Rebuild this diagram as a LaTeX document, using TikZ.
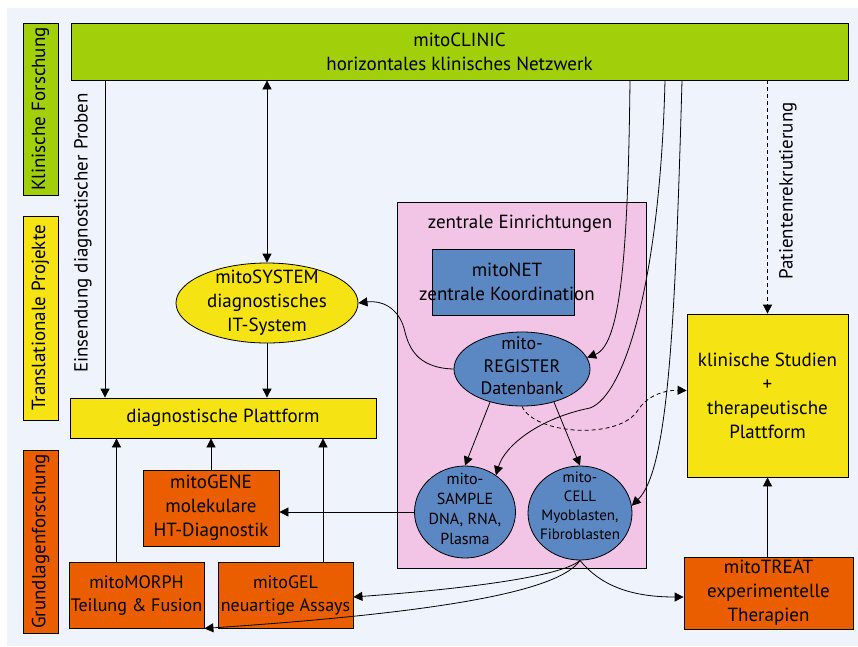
\documentclass[tikz,border=0pt]{standalone}
\usepackage{fontspec}
\setmainfont{PT Sans}
\usetikzlibrary{arrows.meta,shapes.geometric}

\definecolor{hintergrund}{HTML}{EEF3FC}
\definecolor{mitogruen}{HTML}{A1CF0A}
\definecolor{mitogelb}{HTML}{F5E314}
\definecolor{mitoorange}{HTML}{EB5E00}
\definecolor{mitorosa}{HTML}{F2C4E6}
\definecolor{mitoblau}{HTML}{5B87C3}

\tikzset{
	box/.style={draw, line width=0.8pt, align=center, inner sep=0pt, font=\fontsize{19}{24}\selectfont},
	seite/.style={box, rotate=90, minimum height=35pt},
	blob/.style={draw, line width=0.8pt, ellipse, inner sep=0pt, fill=mitoblau},
	txt/.style={align=center, inner sep=0pt, font=\fontsize{19}{24}\selectfont},
	pfeil/.style={line width=0.8pt, -{Triangle[length=9pt,width=9pt]}},
	doppelpfeil/.style={line width=0.8pt, {Triangle[length=9pt,width=9pt]}-{Triangle[length=9pt,width=9pt]}}
}

\begin{document}
\begin{tikzpicture}[x=1pt,y=-1pt]
		%%%%% START %%%%%
		\useasboundingbox (0,0) rectangle (858,646);
		\fill[hintergrund] (7,8) rectangle (858,646);

		% Ebenen links
		\node[seite, fill=mitogruen, minimum width=172pt] (klinisch) at (40.5,109) {Klinische Forschung};
		\node[seite, fill=mitogelb, minimum width=204pt] (translational) at (40.5,318) {Translationale Projekte};
		\node[seite, fill=mitoorange, minimum width=183pt] (grundlagen) at (40.5,541.5) {Grundlagenforschung};

		% Netzwerk oben
		\node[box, fill=mitogruen, minimum width=777pt, minimum height=57pt] (clinic) at (459.5,51.5) {mitoCLINIC\\horizontales klinisches Netzwerk};

		% diagnostischer Teil
		\node[blob, fill=mitogelb, minimum width=182pt, minimum height=80pt] (system) at (267,303) {};
		\node[txt] (systemtxt) at (system) {mitoSYSTEM\\diagnostisches\\IT-System};
		\node[box, fill=mitogelb, minimum width=306pt, minimum height=40pt] (diagplatt) at (223,418) {diagnostische Plattform};
		\node[box, fill=mitoorange, minimum width=136pt, minimum height=76pt] (gene) at (211,508) {mitoGENE\\molekulare\\HT-Diagnostik};
		\node[box, fill=mitoorange, minimum width=135pt, minimum height=66pt, font=\fontsize{18}{23}\selectfont] (morph) at (136.5,595) {mitoMORPH\\Teilung \& Fusion};
		\node[box, fill=mitoorange, minimum width=135pt, minimum height=66pt, font=\fontsize{18}{23}\selectfont] (gel) at (285.5,595) {mitoGEL\\neuartige Assays};

		% zentrale Einrichtungen
		\node[draw, line width=0.8pt, fill=mitorosa, minimum width=249pt, minimum height=366pt] (zentral) at (521.5,385) {};
		\node[txt] (zentraltxt) at (520,224) {zentrale Einrichtungen};
		\node[draw, line width=0.8pt, fill=mitoblau, minimum width=142pt, minimum height=66pt] (net) at (503,282) {};
		\node[txt] (nettxt) at (507,282) {mitoNET\\zentrale Koordination};
		\node[blob, minimum width=136pt, minimum height=74pt] (register) at (522,369) {};
		\node[txt, font=\fontsize{18}{22.5}\selectfont] (registertxt) at (522,366) {mito-\\REGISTER\\Datenbank};
		\node[blob, minimum width=101pt, minimum height=92pt] (sample) at (465,512) {};
		\node[txt, font=\fontsize{16}{20}\selectfont] (sampletxt) at (465,509) {mito-\\SAMPLE\\DNA, RNA,\\Plasma};
		\node[blob, minimum width=104pt, minimum height=94pt] (cell) at (580,513) {};
		\node[txt, font=\fontsize{15}{19}\selectfont] (celltxt) at (580,506) {mito-\\CELL\\Myoblasten,\\Fibroblasten};

		% klinischer Teil
		\node[box, fill=mitogelb, minimum width=161pt, minimum height=163pt] (studien) at (767.5,395.5) {klinische Studien\\+\\therapeutische\\Plattform};
		\node[box, fill=mitoorange, minimum width=169pt, minimum height=72pt] (treat) at (768.5,593) {mitoTREAT\\experimentelle\\Therapien};

		% Beschriftungen
		\node[txt, rotate=90] (einsendung) at (83,233) {Einsendung diagnostischer Proben};
		\node[txt, rotate=90] (rekrutierung) at (788,191) {Patientenrekrutierung};

		% Pfeile
		\coordinate (probe) at (105,0);
		\draw[pfeil] (clinic.south -| probe) -- (diagplatt.north -| probe);
		\draw[doppelpfeil] (clinic.south -| system.north) -- (system.north);
		\draw[pfeil] (system.south) -- (system.south |- diagplatt.north);
		\draw[pfeil] (gene.north) -- (gene.north |- diagplatt.south);
		\draw[pfeil] ([xshift=-20pt]morph.north) -- ([xshift=-20pt]morph.north |- diagplatt.south);
		\draw[pfeil] ([xshift=37.5pt]gel.north) -- ([xshift=37.5pt]gel.north |- diagplatt.south);
		\draw[pfeil, dash pattern=on 4pt off 3pt] (clinic.south -| studien.north) -- (studien.north);
		\draw[pfeil] (treat.north -| studien.south) -- (studien.south);

		\draw[pfeil] (register.west) .. controls (415,368) and (408,345) .. (404,328) .. controls (398,308) and (382,300) .. (system.east);
		\draw[pfeil] ([xshift=170.5pt]clinic.south) .. controls (628,260) and (620,345) .. (register.10);
		\draw[pfeil] ([xshift=205.5pt]clinic.south) .. controls (660,280) and (625,395) .. (590,408) .. controls (540,418) and (505,445) .. (sample.50);
		\draw[pfeil] ([xshift=222.5pt]clinic.south) .. controls (675,330) and (668,470) .. (cell.8);
		\draw[pfeil] (register.226) -- (sample.north);
		\draw[pfeil] (register.314) -- (cell.north);
		\draw[pfeil, dash pattern=on 4pt off 3pt] (register.south) .. controls (535,435) and (620,440) .. (638,410) .. controls (648,395) and (665,390) .. ([yshift=5pt]studien.west);
		\draw[pfeil] (sample.west) -- (sample.west -| gene.east);
		\draw[pfeil] (cell.south) .. controls (600,585) and (630,597) .. ([yshift=-4pt]treat.west);
		\draw[pfeil] (cell.south) .. controls (560,578) and (450,590) .. ([yshift=-2pt]gel.east);
		\draw[pfeil] (cell.south) .. controls (560,590) and (450,612) .. (morph.south east);
		%%%%% END %%%%%
\end{tikzpicture}
\end{document}
